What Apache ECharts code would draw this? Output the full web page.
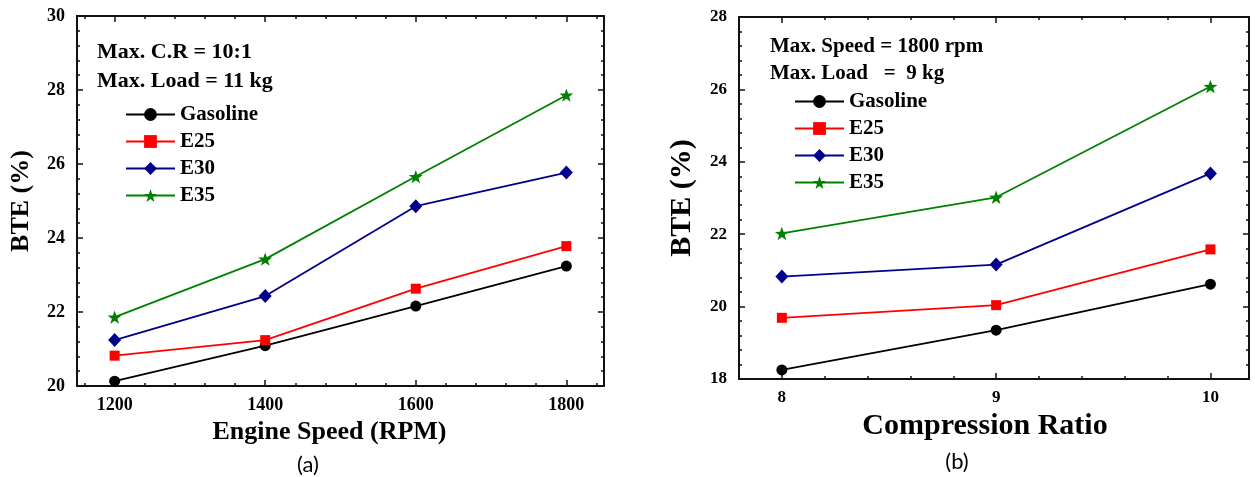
<!DOCTYPE html>
<html>
<head>
<meta charset="utf-8">
<script src="https://cdn.jsdelivr.net/npm/echarts@6/dist/echarts.min.js"></script>
<style>
  html, body { margin: 0; padding: 0; background: #fff; }
  #chart { width: 1255px; height: 477px; }
</style>
</head>
<body>
<div id="chart"></div>
<script>
// Fuel blends shown in both panels
const seriesNames = ['Gasoline', 'E25', 'E30', 'E35'];

// Panel (a): brake thermal efficiency vs engine speed
const speedTicks = [1200, 1400, 1600, 1800];
const speedGasoline = [20.13, 21.09, 22.16, 23.24];
const speedE25 = [20.82, 21.24, 22.63, 23.78];
const speedE30 = [21.24, 22.43, 24.86, 25.77];
const speedE35 = [21.86, 23.43, 25.66, 27.86];

// Panel (b): brake thermal efficiency vs compression ratio
const ratioTicks = [8, 9, 10];
const ratioGasoline = [18.25, 19.35, 20.62];
const ratioE25 = [19.69, 20.04, 21.58];
const ratioE30 = [20.83, 21.16, 23.68];
const ratioE35 = [22.02, 23.02, 26.08];

const SERIF = '"Liberation Serif", "Times New Roman", serif';
const INK = '#111';
const colors = ['#000000', '#ff0000', '#00008b', '#008000'];
const STAR = 'path://M0,-10L2.35,-3.24L9.51,-3.09L3.8,1.24L5.88,8.09L0,4L-5.88,8.09L-3.8,1.24L-9.51,-3.09L-2.35,-3.24Z';
const symbols = ['circle', 'rect', 'diamond', STAR];
const symbolSizes = [11, 10, [13, 14], 14];

// minor tick positions between the labelled ticks
function minorTicks(major, parts) {
  const out = [];
  const step = (major[1] - major[0]) / parts;
  const start = major[0] - step * (parts - 1);
  const end = major[major.length - 1] + step * (parts - 1);
  for (let i = 0; start + i * step <= end + 1e-9; i++) {
    const v = Math.round((start + i * step) * 1000) / 1000;
    if (!major.some(m => Math.abs(m - v) < 1e-9)) out.push(v);
  }
  return out;
}

function xAxesFor(grid, min, max, major, minor, opts) {
  const line = { show: true, lineStyle: { color: INK, width: 2 } };
  const base = { type: 'value', gridIndex: grid, min, max, splitLine: { show: false } };
  return [
    Object.assign({}, base, {
      position: 'bottom',
      axisLine: line,
      axisTick: { show: true, inside: true, length: 6, customValues: major, lineStyle: { color: INK, width: 1.5 } },
      axisLabel: { show: true, customValues: major, margin: opts.labelMargin, color: '#000',
        formatter: v => String(v),
        fontFamily: SERIF, fontWeight: 'bold', fontSize: opts.labelSize },
      name: opts.name, nameLocation: 'middle', nameGap: opts.nameGap,
      nameTextStyle: { fontFamily: SERIF, fontWeight: 'bold', fontSize: opts.nameSize, color: '#000',
        padding: [0, opts.nameShift, 0, 0] }
    }),
    Object.assign({}, base, {
      position: 'bottom',
      axisLine: { show: false },
      axisTick: { show: true, inside: true, length: 3, customValues: minor, lineStyle: { color: INK, width: 1.5 } },
      axisLabel: { show: false }
    }),
    Object.assign({}, base, {
      position: 'top',
      axisLine: line,
      axisTick: { show: true, inside: true, length: 6, customValues: major, lineStyle: { color: INK, width: 1.5 } },
      axisLabel: { show: false }
    }),
    Object.assign({}, base, {
      position: 'top',
      axisLine: { show: false },
      axisTick: { show: true, inside: true, length: 3, customValues: minor, lineStyle: { color: INK, width: 1.5 } },
      axisLabel: { show: false }
    })
  ];
}

function yAxesFor(grid, min, max, opts) {
  const common = {
    type: 'value', gridIndex: grid, min, max, interval: 2,
    splitLine: { show: false },
    axisLine: { show: true, lineStyle: { color: INK, width: 2 } },
    axisTick: { show: true, inside: true, length: 6, lineStyle: { color: INK, width: 1.5 } },
    minorTick: { show: true, splitNumber: 5, length: 3, lineStyle: { color: INK, width: 1.5 } }
  };
  return [
    Object.assign({}, common, {
      position: 'left',
      axisLabel: { show: true, margin: 12, color: '#000', fontFamily: SERIF, fontWeight: 'bold', fontSize: opts.labelSize },
      name: 'BTE (%)', nameLocation: 'middle', nameGap: opts.nameGap,
      nameTextStyle: { fontFamily: SERIF, fontWeight: 'bold', fontSize: opts.nameSize, color: '#000' }
    }),
    Object.assign({}, common, { position: 'right', axisLabel: { show: false } })
  ];
}

function seriesFor(xs, valueLists, xAxisIndex, yAxisIndex) {
  return valueLists.map((vals, i) => ({
    type: 'line',
    name: seriesNames[i],
    xAxisIndex, yAxisIndex,
    data: xs.map((x, j) => [x, vals[j]]),
    symbol: symbols[i],
    symbolSize: symbolSizes[i],
    symbolKeepAspect: true,
    showAllSymbol: true,
    lineStyle: { color: colors[i], width: 1.8 },
    itemStyle: { color: colors[i] },
    emphasis: { disabled: true },
    z: 3 + i
  }));
}

const legendBase = {
  data: seriesNames, orient: 'vertical', itemWidth: 49, itemHeight: 16, itemGap: 6, padding: 0,
  selectedMode: false,
  textStyle: { fontFamily: SERIF, fontWeight: 'bold', fontSize: 21, color: '#000', padding: [0, 0, 0, 0] }
};

function note(text, x, y, size) {
  return { type: 'text', x, y, silent: true,
    style: { text, fill: '#000', font: 'bold ' + size + 'px ' + SERIF, verticalAlign: 'middle', align: 'left' } };
}
function caption(text, x, y) {
  return { type: 'text', x, y, silent: true,
    style: { text, fill: '#000', font: '22px Lato, "Open Sans", sans-serif', verticalAlign: 'middle', align: 'center' } };
}

const option = {
  backgroundColor: '#fff',
  animation: false,
  grid: [
    { left: 77, top: 16, width: 527, height: 370 },
    { left: 739, top: 17, width: 510, height: 362 }
  ],
  xAxis: [].concat(
    xAxesFor(0, 1150, 1850, speedTicks, minorTicks(speedTicks, 5),
      { name: 'Engine Speed (RPM)', nameSize: 26, nameGap: 31, nameShift: 22, labelSize: 18, labelMargin: 10 }),
    xAxesFor(1, 7.8, 10.18, ratioTicks, minorTicks(ratioTicks, 5),
      { name: 'Compression Ratio', nameSize: 30, nameGap: 27, nameShift: 18, labelSize: 17, labelMargin: 10 })
  ),
  yAxis: [].concat(
    yAxesFor(0, 20, 30, { labelSize: 18, nameSize: 26, nameGap: 43 }),
    yAxesFor(1, 18, 28, { labelSize: 17, nameSize: 30, nameGap: 42 })
  ),
  legend: [
    Object.assign({}, legendBase, { left: 125, top: 104 }),
    Object.assign({}, legendBase, { left: 794, top: 91 })
  ],
  series: [].concat(
    seriesFor(speedTicks, [speedGasoline, speedE25, speedE30, speedE35], 0, 0),
    seriesFor(ratioTicks, [ratioGasoline, ratioE25, ratioE30, ratioE35], 4, 2)
  ),
  graphic: [
    note('Max. C.R = 10:1', 97, 52.5, 22),
    note('Max. Load = 11 kg', 97, 81.5, 22),
    note('Max. Speed = 1800 rpm', 770, 46.5, 21),
    note('Max. Load   =  9 kg', 770, 73.5, 21),
    caption('(a)', 308, 465),
    caption('(b)', 957, 462)
  ]
};

const chart = echarts.init(document.getElementById('chart'), null, { renderer: 'canvas' });
chart.setOption(option);
</script>
</body>
</html>
